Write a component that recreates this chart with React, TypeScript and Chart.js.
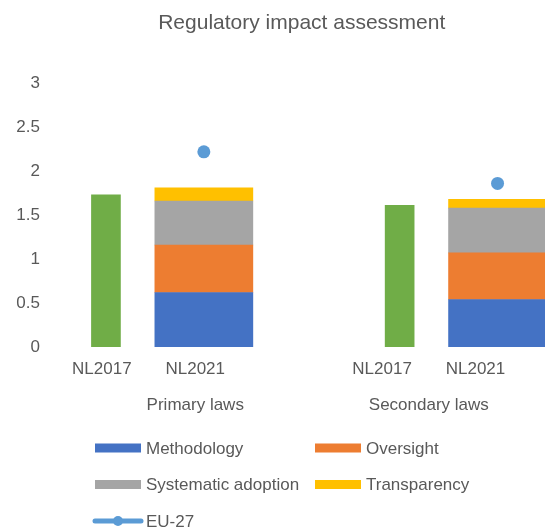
import React, { useEffect, useRef } from "react";
import { Chart, registerables } from "chart.js";

Chart.register(...registerables);

// ---- Data ----
const chartTitle = "Regulatory impact assessment";
const groups = ["Primary laws", "Secondary laws"];
const periods = ["NL2017", "NL2021"];
const nl2017Score = [1.73, 1.61];
const methodology = [0.62, 0.54];
const oversight = [0.54, 0.53];
const systematicAdoption = [0.5, 0.51];
const transparency = [0.15, 0.1];
const eu27 = [2.22, 1.86];
const yTicks = [0, 0.5, 1, 1.5, 2, 2.5, 3];

// ---- Styles ----
const TEXT = "#595959";
const FONT = "'Liberation Sans', Arial, sans-serif";
const C = {
  nl2017: "#70AD47",
  methodology: "#4472C4",
  oversight: "#ED7D31",
  systematic: "#A5A5A5",
  transparency: "#FFC000",
  eu: "#5B9BD5",
};

// Category slots: each group's periods, with a blank separator between groups
const slotLabels: string[] = [];
const slotGroup: number[] = [];
const slotPeriod: number[] = [];
groups.forEach((_, gi) => {
  if (gi > 0) {
    slotLabels.push("");
    slotGroup.push(-1);
    slotPeriod.push(-1);
  }
  periods.forEach((p, pi) => {
    slotLabels.push(p);
    slotGroup.push(gi);
    slotPeriod.push(pi);
  });
});
const atPeriod = (values: number[], period: number) =>
  slotLabels.map((_, i) => (slotPeriod[i] === period ? values[slotGroup[i]] : null));

// label-axis tick positions (slot indices) and group centres
const periodTickPos = slotLabels.map((l, i) => (l ? i : -1)).filter((i) => i >= 0);
const groupCenters = groups.map((_, gi) => {
  const first = slotGroup.indexOf(gi);
  const last =
    gi + 1 < groups.length ? slotGroup.indexOf(gi + 1) - 1 : slotGroup.lastIndexOf(gi);
  return (first + last) / 2;
});

const LABEL_MIN = -0.48;
const LABEL_MAX = 4.76;

const legendPlugin = {
  id: "gridLegend",
  afterDraw(chart: any) {
    const ctx = chart.ctx;
    const top = chart.scales.xg.bottom;
    const items = chart.data.datasets.filter((d: any) => d.inLegend);
    ctx.save();
    ctx.font = `17px ${FONT}`;
    ctx.textBaseline = "middle";
    ctx.textAlign = "left";
    items.forEach((d: any, i: number) => {
      const col = i % 2;
      const row = Math.floor(i / 2);
      const x = 95 + col * 220;
      const y = top + 18 + row * 36.5;
      if (d.type === "line") {
        ctx.strokeStyle = d.borderColor;
        ctx.lineWidth = 5;
        ctx.lineCap = "round";
        ctx.beginPath();
        ctx.moveTo(x, y);
        ctx.lineTo(x + 46, y);
        ctx.stroke();
        ctx.fillStyle = d.pointBackgroundColor;
        ctx.beginPath();
        ctx.arc(x + 23, y, 5, 0, Math.PI * 2);
        ctx.fill();
      } else {
        ctx.fillStyle = d.backgroundColor;
        ctx.fillRect(x, y - 4.5, 46, 9);
      }
      ctx.fillStyle = TEXT;
      ctx.fillText(d.label, x + 51, y + 1);
    });
    ctx.restore();
  },
};

const labelAxis = (ticksAt: number[], labelFor: (v: number) => string, height: number, padding: number) => ({
  type: "linear",
  position: "bottom",
  min: LABEL_MIN,
  max: LABEL_MAX,
  offset: false,
  bounds: "data",
  grace: 0,
  grid: { display: false, drawTicks: false, offset: false },
  border: { display: false },
  afterBuildTicks: (scale: any) => {
    scale.ticks = ticksAt.map((v) => ({ value: v }));
  },
  afterFit: (scale: any) => {
    scale.height = height;
    scale.paddingLeft = 0;
    scale.paddingRight = 0;
  },
  ticks: {
    autoSkip: false,
    maxRotation: 0,
    minRotation: 0,
    padding,
    color: TEXT,
    font: { family: FONT, size: 17 },
    callback: (v: any) => labelFor(Number(v)),
  },
});

export default function App() {
  const ref = useRef<HTMLCanvasElement | null>(null);

  useEffect(() => {
    if (!ref.current) return;
    const chart = new Chart(ref.current, {
      type: "bar",
      data: {
        labels: slotLabels,
        datasets: [
          {
            label: "NL2017",
            data: atPeriod(nl2017Score, 0),
            backgroundColor: C.nl2017,
            barThickness: 29,
            stack: "s",
            inLegend: false,
            order: 1,
          } as any,
          {
            label: "Methodology",
            data: atPeriod(methodology, 1),
            backgroundColor: C.methodology,
            barThickness: 98,
            stack: "s",
            inLegend: true,
            order: 1,
          } as any,
          {
            label: "Oversight",
            data: atPeriod(oversight, 1),
            backgroundColor: C.oversight,
            barThickness: 98,
            stack: "s",
            inLegend: true,
            order: 1,
          } as any,
          {
            label: "Systematic adoption",
            data: atPeriod(systematicAdoption, 1),
            backgroundColor: C.systematic,
            barThickness: 98,
            stack: "s",
            inLegend: true,
            order: 1,
          } as any,
          {
            label: "Transparency",
            data: atPeriod(transparency, 1),
            backgroundColor: C.transparency,
            barThickness: 98,
            stack: "s",
            inLegend: true,
            order: 1,
          } as any,
          {
            type: "line",
            label: "EU-27",
            data: atPeriod(eu27, 1),
            showLine: false,
            borderColor: C.eu,
            backgroundColor: C.eu,
            pointBackgroundColor: C.eu,
            pointBorderColor: C.eu,
            pointRadius: 6.5,
            pointBorderWidth: 0,
            stack: "eu",
            inLegend: true,
            order: 0,
          } as any,
        ],
      },
      options: {
        responsive: false,
        animation: false,
        layout: { padding: { top: 0, right: 0, bottom: 98, left: 0 } },
        plugins: {
          legend: { display: false },
          tooltip: { enabled: false },
          title: {
            display: true,
            text: chartTitle,
            fullSize: false,
            color: TEXT,
            font: { family: FONT, size: 21, weight: "normal" },
            padding: { top: 11, bottom: 47 },
          },
        },
        scales: {
          x: {
            type: "category",
            stacked: true,
            display: false,
          },
          xl: labelAxis(periodTickPos, (v) => slotLabels[Math.round(v)] ?? "", 40, 12),
          xg: labelAxis(
            groupCenters,
            (v) => {
              const gi = groupCenters.indexOf(v);
              return gi >= 0 ? groups[gi] : "";
            },
            43,
            8
          ),
          y: {
            stacked: true,
            min: 0,
            max: 3,
            grid: { display: false, drawTicks: false },
            border: { display: false },
            afterBuildTicks: (scale: any) => {
              scale.ticks = yTicks.map((v) => ({ value: v }));
            },
            afterFit: (scale: any) => {
              scale.width = 57;
            },
            ticks: {
              padding: 17,
              color: TEXT,
              font: { family: FONT, size: 17 },
              callback: (v: any) => String(v),
            },
          },
        },
      } as any,
      plugins: [legendPlugin],
    });
    return () => chart.destroy();
  }, []);

  return (
    <div
      style={{
        position: "absolute",
        left: 0,
        top: 0,
        width: 545,
        height: 528,
        overflow: "hidden",
        background: "#fff",
      }}
    >
      <canvas ref={ref} width={553} height={528} style={{ display: "block" }} />
    </div>
  );
}
